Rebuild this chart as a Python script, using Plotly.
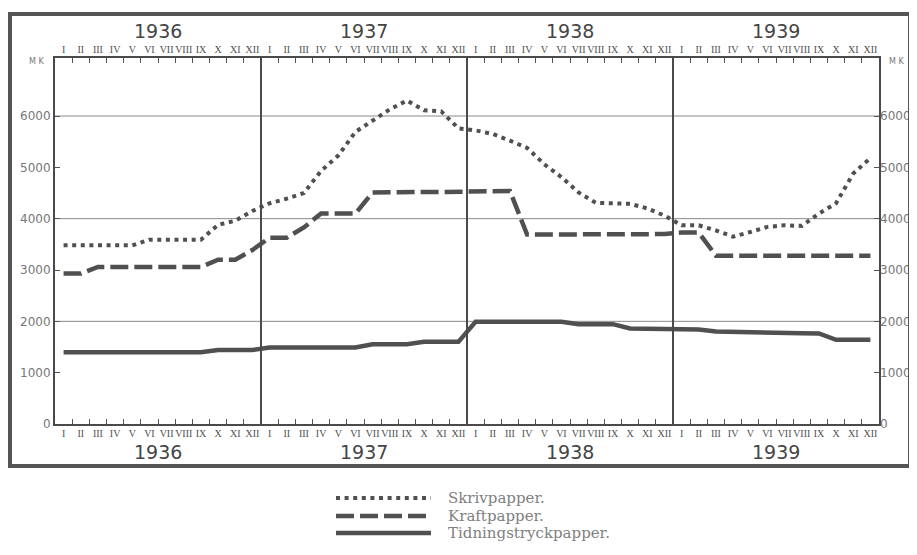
import plotly.graph_objects as go

years = ["1936", "1937", "1938", "1939"]
months = ["I", "II", "III", "IV", "V", "VI", "VII", "VIII", "IX", "X", "XI", "XII"]
series_names = ["Skrivpapper.", "Kraftpapper.", "Tidningstryckpapper."]

skrivpapper = [
    3480, 3480, 3480, 3480, 3480, 3590, 3590, 3590, 3590, 3880, 3960, 4150,
    4300, 4390, 4500, 4930, 5230, 5690, 5910, 6130, 6300, 6110, 6090, 5760,
    5720, 5650, 5520, 5380, 5060, 4810, 4510, 4310, 4300, 4290, 4200, 4060,
    3870, 3870, 3770, 3650, 3740, 3840, 3870, 3860, 4100, 4300, 4880, 5180,
]
kraftpapper = [
    2930, 2930, 3060, 3060, 3060, 3060, 3060, 3060, 3060, 3200, 3200, 3390,
    3630, 3630, 3830, 4100, 4100, 4100, 4510, 4520, 4520, 4520, 4520, 4520,
    4540, 4540, 4540, 3690, 3690, 3690, 3690, 3690, 3690, 3690, 3690, 3700,
    3730, 3730, 3280, 3280, 3280, 3280, 3280, 3280, 3280, 3280, 3280, 3280,
]
tidningstryckpapper = [
    1400, 1400, 1400, 1400, 1400, 1400, 1400, 1400, 1400, 1440, 1440, 1440,
    1490, 1490, 1490, 1490, 1490, 1490, 1555, 1555, 1555, 1600, 1600, 1600,
    1990, 1990, 1990, 1990, 1990, 1990, 1945, 1945, 1945, 1860, 1860, 1860,
    1850, 1840, 1800, 1790, 1785, 1780, 1775, 1770, 1765, 1640, 1640, 1640,
]
y_ticks = [0, 1000, 2000, 3000, 4000, 5000, 6000]
grid_values = [2000, 4000, 6000]
y_max = 7130

n = len(years) * len(months)
x = list(range(n))
ticktext = months * len(years)
month_bounds = [i + 0.5 for i in range(n - 1)]
year_centers = [i * len(months) + (len(months) - 1) / 2 for i in range(len(years))]
year_bounds = [i * len(months) - 0.5 for i in range(1, len(years))]

INK = "#4a4a4a"
GREY = "#777777"
series = [skrivpapper, kraftpapper, tidningstryckpapper]
styles = [
    dict(color="#505050", width=4, dash="4px,4.6px"),
    dict(color="#505050", width=4.5, dash="18px,6px"),
    dict(color="#505050", width=4.5, dash="solid"),
]

fig = go.Figure()
for name, vals, st in zip(series_names, series, styles):
    fig.add_trace(go.Scatter(x=x, y=vals, mode="lines", name=name, line=st,
                             showlegend=False, hoverinfo="skip"))
# helper traces so the extra axes get drawn
for xa, ya in (("x2", "y"), ("x3", "y"), ("x", "y2")):
    fig.add_trace(go.Scatter(x=x, y=[None] * n, xaxis=xa, yaxis=ya,
                             showlegend=False, hoverinfo="skip"))

roman_font = dict(family="Liberation Serif", size=10, color="#505050")
num_font = dict(family="DejaVu Sans", size=12, color=GREY)

xrange_ = [-0.5, n - 0.5]
xlabels = dict(range=xrange_, tickmode="array", tickvals=x,
               ticktext=ticktext, ticks="", tickfont=roman_font,
               tickangle=0, automargin=False, ticklabelstandoff=2,
               showgrid=False, zeroline=False, showline=False)
ycommon = dict(range=[0, y_max], tickmode="array", tickvals=y_ticks,
               ticks="inside", ticklen=5, tickcolor="#555",
               tickfont=num_font, showgrid=False, zeroline=False,
               automargin=False)
# Page body has an 8px margin: figure is drawn 8px right/down.
OFF = 8
W, H = 917 - OFF, 555 - OFF
L, R, T, B = 55, 879, 58, 424  # plot area in page pixels
fig.update_layout(
    xaxis=dict(range=xrange_, tickmode="array", tickvals=month_bounds,
               ticks="inside", ticklen=5, tickcolor="#555", tickwidth=1,
               showticklabels=False, showgrid=False, zeroline=False,
               showline=True, linecolor=INK, linewidth=2, mirror="ticks",
               automargin=False),
    xaxis2=dict(**xlabels, overlaying="x", side="bottom", matches="x",
                anchor="y"),
    xaxis3=dict(**xlabels, overlaying="x", side="top", matches="x",
                anchor="y"),
    yaxis=dict(**ycommon, showline=True, linecolor=INK, linewidth=2,
               mirror=True),
    yaxis2=dict(**ycommon, overlaying="y", side="right", matches="y",
                anchor="x"),
    width=W, height=H,
    margin=dict(l=L - OFF, r=W - (R - OFF), t=T - OFF, b=H - (B - OFF),
                autoexpand=False),
    paper_bgcolor="white", plot_bgcolor="white",
)

shapes = []
for g in grid_values:
    shapes.append(dict(type="line", xref="paper", yref="y", x0=0, x1=1,
                       y0=g, y1=g, line=dict(color="#8a8a8a", width=1),
                       layer="below"))
for b in year_bounds:
    shapes.append(dict(type="line", xref="x", yref="paper", x0=b, x1=b,
                       y0=0, y1=1, line=dict(color=INK, width=2)))


def px_to_paper_x(px):
    return (px - L) / float(R - L)


def px_to_paper_y(py):
    return (B - py) / float(B - T)


# outer frame
shapes.append(dict(type="rect", xref="paper", yref="paper",
                   x0=px_to_paper_x(10), x1=px_to_paper_x(910),
                   y0=px_to_paper_y(466), y1=px_to_paper_y(14),
                   line=dict(color="#555555", width=4)))

annotations = []
for yr, xc in zip(years, year_centers):
    for py in (31, 452):
        annotations.append(dict(text=yr, x=xc, xref="x", y=px_to_paper_y(py),
                                yref="paper", showarrow=False,
                                xanchor="center", yanchor="middle",
                                font=dict(family="DejaVu Sans", size=19,
                                          color="#454545")))
annotations.append(dict(text="M K", x=0, xref="paper", y=1, yref="paper",
                        xanchor="right", yanchor="middle", xshift=-9,
                        yshift=-3, showarrow=False,
                        font=dict(family="DejaVu Sans", size=8, color=GREY)))
annotations.append(dict(text="M K", x=1, xref="paper", y=1, yref="paper",
                        xanchor="left", yanchor="middle", xshift=8,
                        yshift=-3, showarrow=False,
                        font=dict(family="DejaVu Sans", size=8, color=GREY)))

legend_rows = [498, 516, 533]
for name, st, py in zip(series_names, styles, legend_rows):
    yp = px_to_paper_y(py)
    shapes.append(dict(type="line", xref="paper", yref="paper",
                       x0=px_to_paper_x(336), x1=px_to_paper_x(431),
                       y0=yp, y1=yp, line=st))
    annotations.append(dict(text=name, x=px_to_paper_x(446), xref="paper",
                            y=yp, yref="paper", xanchor="left",
                            yanchor="middle", showarrow=False,
                            font=dict(family="DejaVu Serif", size=15,
                                      color="#808080")))

fig.update_layout(shapes=shapes, annotations=annotations)
fig.write_html("out.html")
